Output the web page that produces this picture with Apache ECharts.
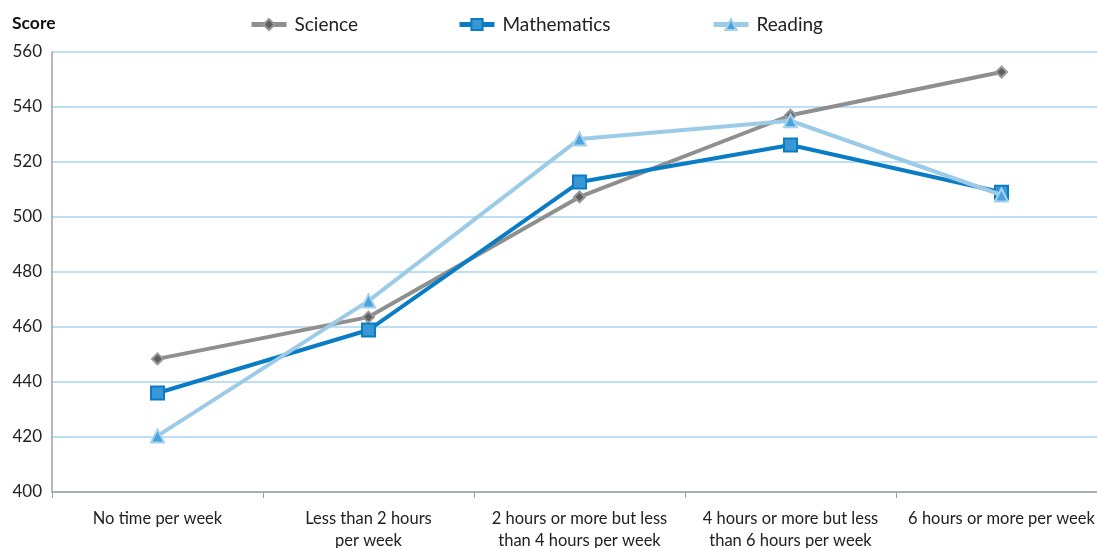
<!DOCTYPE html>
<html><head><meta charset="utf-8">
<script src="https://cdn.jsdelivr.net/npm/echarts@6/dist/echarts.min.js"></script>
<style>html,body{margin:0;padding:0;background:#fff}#c{width:1097px;height:548px}</style>
</head><body><div id="c"></div>
<script>
const categories = ["No time per week", "Less than 2 hours\nper week", "2 hours or more but less\nthan 4 hours per week", "4 hours or more but less\nthan 6 hours per week", "6 hours or more per week"];
const science = [448.4, 463.6, 507.3, 537.0, 552.7];
const mathematics = [436.0, 458.9, 512.7, 526.2, 509.0];
const reading = [420.4, 469.5, 528.4, 535.0, 508.0];
const yTicks = [400, 420, 440, 460, 480, 500, 520, 540, 560];
const seriesNames = ['Science', 'Mathematics', 'Reading'];

const FONT = 'Lato';
const legendLefts = [244, 452, 706];
const chart = echarts.init(document.getElementById('c'), null, {renderer: 'canvas'});
chart.setOption({
  animation: false,
  textStyle: {fontFamily: FONT},
  legend: seriesNames.map((n, i) => ({
    top: 10, left: legendLefts[i], itemWidth: 35, itemHeight: 14, itemGap: 0,
    lineStyle: {width: 5},
    textStyle: {fontSize: 19, color: '#222', fontFamily: FONT, padding: [0,0,0,3]},
    data: [n]
  })),
  grid: {left: 52, width: 1055, top: 52, bottom: 56, containLabel: false, outerBoundsMode: 'none'},
  xAxis: {
    type: 'category', data: categories, boundaryGap: true,
    axisLine: {lineStyle: {color: '#a0a0a0', width: 1.5}},
    axisTick: {show: true, length: 6, lineStyle: {color: '#a0a0a0'}},
    axisLabel: {fontSize: 16.5, color: '#222', lineHeight: 22, margin: 16, interval: 0}
  },
  yAxis: {
    type: 'value', min: yTicks[0], max: yTicks[yTicks.length-1], interval: 20,
    name: 'Score', nameLocation: 'end', nameGap: 20,
    nameTextStyle: {fontWeight: 'bold', fontSize: 17.5, color: '#111', align: 'left', padding: [0,0,0,-40]},
    axisLine: {show: true, lineStyle: {color: '#a0a0a0', width: 1.5}},
    axisTick: {show: false},
    axisLabel: {fontSize: 17, color: '#222', margin: 10},
    splitLine: {lineStyle: {color: '#a9d3ec', width: 1.5}}
  },
  series: [
    {name: 'Science', type: 'line', data: science, symbol: 'diamond', symbolSize: 11,
     lineStyle: {color: '#8f8f8f', width: 4}, itemStyle: {color: '#5f5f5f', borderColor: '#9a9a9a', borderWidth: 2}, z: 2},
    {name: 'Mathematics', type: 'line', data: mathematics, symbol: 'rect', symbolSize: 13,
     lineStyle: {color: '#0a7cc3', width: 4}, itemStyle: {color: '#3898d6', borderColor: '#0a7cc3', borderWidth: 2}, z: 3},
    {name: 'Reading', type: 'line', data: reading, symbol: 'triangle', symbolSize: 13,
     lineStyle: {color: '#9ccbe8', width: 4}, itemStyle: {color: '#4aa3dc', borderColor: '#a6d1ec', borderWidth: 2}, z: 4}
  ]
});
</script></body></html>
